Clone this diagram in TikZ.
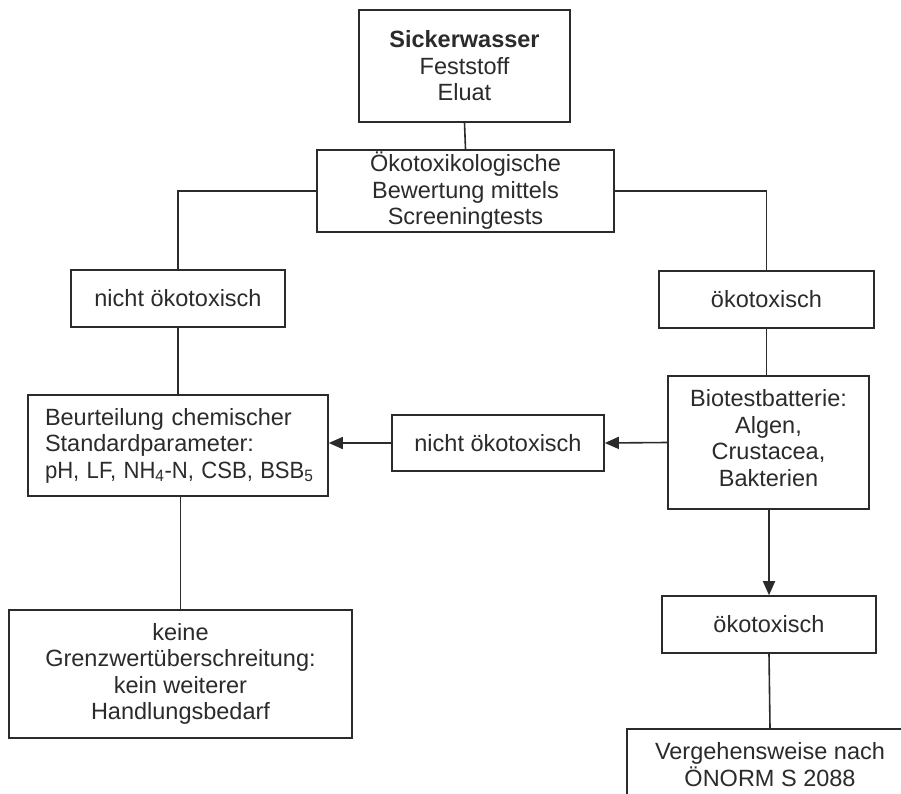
\documentclass[tikz,border=0pt]{standalone}
\usepackage{graphicx}
\usepackage{fontspec}
\setmainfont{Liberation Sans}
\usetikzlibrary{arrows.meta,calc}
\definecolor{ink}{HTML}{2B2B2B}
\tikzset{
  box/.style={draw=ink, line width=1.6pt, rectangle, text=ink, align=center,
    font=\fontsize{23.5}{26.5}\selectfont, inner sep=0pt},
  conn/.style={draw=ink, line width=1.6pt},
  arr/.style={conn, -{Triangle[length=14pt,width=12pt]}}
}
\begin{document}
\begin{tikzpicture}[x=1pt,y=-1pt]
\useasboundingbox (0,0) rectangle (901,794);
\fill[white] (0,0) rectangle (901,794);
\clip (0,0) rectangle (901,794);

\node[box, minimum width=211pt, minimum height=112pt] (top) at (464.5,66)
  {\textbf{Sickerwasser}\\Feststoff\\Eluat};
\node[box, minimum width=297pt, minimum height=82pt] (screen) at (465.5,191)
  {Ökotoxikologische\\Bewertung mittels\\Screeningtests};
\node[box, minimum width=214pt, minimum height=57pt] (nlo) at (178,298.5)
  {nicht ökotoxisch};
\node[box, minimum width=215pt, minimum height=57pt] (oeko) at (766.5,299.5)
  {ökotoxisch};
\node[box, minimum width=300pt, minimum height=101pt, text width=266pt, align=left] (beurt) at (178,445.5)
  {Beurteilung chemischer\\Standardparameter:\\\scalebox{0.94}[1]{pH, LF, NH\textsubscript{4}-N, CSB, BSB\textsubscript{5}}};
\node[box, minimum width=212pt, minimum height=56pt] (nmid) at (498,443)
  {nicht ökotoxisch};
\node[box, minimum width=201pt, minimum height=133pt, inner ysep=4pt] (bio) at (768.5,442.5)
  {Biotestbatterie:\\Algen,\\Crustacea,\\Bakterien\\[-17pt]};
\node[box, minimum width=214pt, minimum height=57pt] (oeko2) at (769,624.5)
  {ökotoxisch};
\node[box, minimum width=343pt, minimum height=128pt] (keine) at (180.5,674)
  {keine\\Grenzwertüberschreitung:\\kein weiterer\\Handlungsbedarf};
\node[box, minimum width=286pt, minimum height=72pt, anchor=north] (verg) at (770,728)
  {Vergehensweise nach\\ÖNORM S 2088};

\draw[conn] (top.south) -- (screen.north);
\draw[conn] (screen.west) -| (nlo.north);
\draw[conn] (screen.east) -| (oeko.north);
\draw[conn] (nlo.south) -- (beurt.north);
\draw[conn] (beurt.south -| keine.north) -- (keine.north);
\draw[conn] (oeko.south) -- (oeko.south |- bio.north);
\draw[arr] (bio.west) -- (nmid.east);
\draw[arr] (nmid.west) -- (nmid.west -| beurt.east);
\draw[arr] (bio.south -| oeko2.north) -- (oeko2.north);
\draw[conn] (oeko2.south) -- (verg.north);
\end{tikzpicture}
\end{document}
